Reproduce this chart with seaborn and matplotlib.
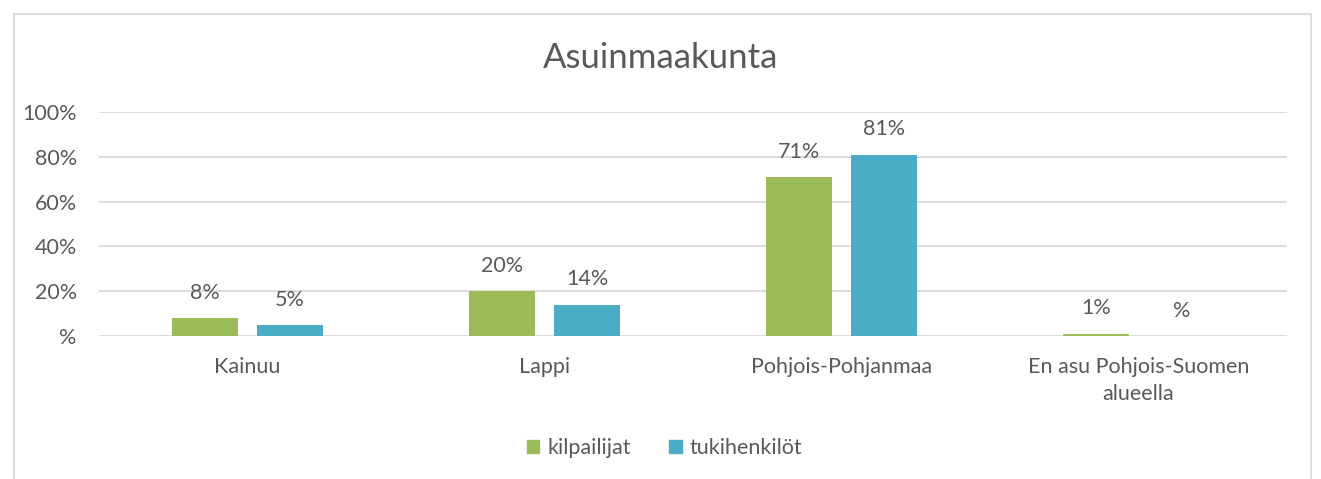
import pandas as pd
import matplotlib.pyplot as plt
import seaborn as sns
from matplotlib.patches import Rectangle

categories = ["Kainuu", "Lappi", "Pohjois-Pohjanmaa", "En asu Pohjois-Suomen\nalueella"]
kilpailijat = [8, 20, 71, 1]
tukihenkilot = [5, 14, 81, 0]
series_names = ["kilpailijat", "tukihenkilöt"]
yticks = [0, 20, 40, 60, 80, 100]

data = pd.DataFrame({
    "Alue": categories * 2,
    "Ryhmä": [series_names[0]] * 4 + [series_names[1]] * 4,
    "Osuus": kilpailijat + tukihenkilot,
})

sns.set_style("white")
plt.rcParams['font.family'] = ['Lato', 'DejaVu Sans']
text_color = "#595959"
grid_color = "#d9d9d9"
fs = 15.5

fig = plt.figure(figsize=(13.21, 4.79), dpi=100)
ax = fig.add_axes([99 / 1321, 1 - 336 / 479, 1188 / 1321, 224 / 479])

sns.barplot(data=data, x="Alue", y="Osuus", hue="Ryhmä", ax=ax,
            palette=["#9BBB59", "#4BACC6"], width=0.575, gap=0.224,
            saturation=1, errorbar=None, legend=False, linewidth=0)


def pct(v):
    return f"{v:.0f}%" if v else "%"


for cont in ax.containers:
    ax.bar_label(cont, labels=[pct(v) for v in cont.datavalues], padding=11,
                 fontsize=fs, color=text_color)

ax.set_xlim(-0.5, 3.5)
ax.set_ylim(0, 100)
ax.set_yticks(yticks)
ax.set_yticklabels([pct(v) for v in yticks])
ax.yaxis.grid(True, color=grid_color, linewidth=1.3)
ax.set_axisbelow(True)
for s in ax.spines.values():
    s.set_visible(False)
ax.tick_params(axis="both", length=0, labelsize=fs, labelcolor=text_color)
ax.tick_params(axis="x", pad=15)
ax.tick_params(axis="y", pad=16)
for lbl in ax.get_xticklabels():
    lbl.set_linespacing(1.45)
ax.set_xlabel("")
ax.set_ylabel("")

fig.text(0.5, 1 - 58 / 479, "Asuinmaakunta", ha="center", va="center",
         fontsize=25, color=text_color)

handles = [Rectangle((0, 0), 1, 1, color=c) for c in ["#9BBB59", "#4BACC6"]]
fig.legend(handles, series_names, loc="center", bbox_to_anchor=(0.503, 1 - 448 / 479),
           ncol=2, frameon=False, fontsize=fs, labelcolor=text_color,
           handlelength=0.6, handleheight=0.6, handletextpad=0.35, columnspacing=1.8)

fig.patches.append(Rectangle((14 / 1321, -0.05), 1297 / 1321, 1.05 - 14 / 479,
                             transform=fig.transFigure, fill=False,
                             edgecolor=grid_color, linewidth=1.3))

fig.savefig("out.png", dpi=100, facecolor="white")
